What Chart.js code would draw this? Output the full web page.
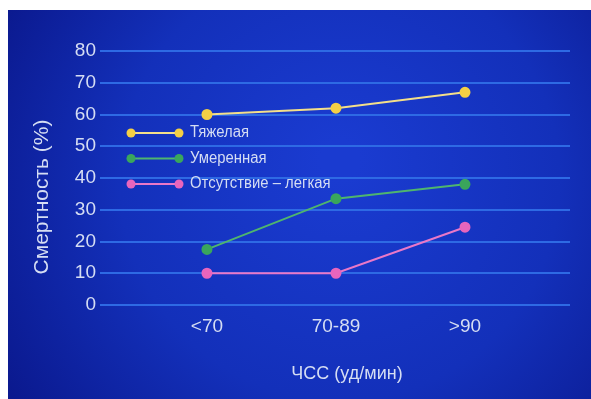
<!DOCTYPE html>
<html>
<head>
<meta charset="utf-8">
<script src="https://cdn.jsdelivr.net/npm/chart.js@4/dist/chart.umd.min.js"></script>
<style>
  html, body { margin: 0; padding: 0; background: #ffffff; }
  #wrap { width: 591px; height: 399px; }
</style>
</head>
<body>
<div id="wrap"><canvas id="c" width="591" height="399"></canvas></div>
<script>
// Heart-rate groups and mortality (%) by severity
const categories = ['<70', '70-89', '>90'];
const severe = [60, 62, 67];
const moderate = [17.5, 33.5, 38];
const mildNone = [10, 10, 24.5];
const seriesNames = ['Тяжелая', 'Умеренная', 'Отсутствие – легкая'];
const yTicks = [0, 10, 20, 30, 40, 50, 60, 70, 80];
const xTitle = 'ЧСС (уд/мин)';
const yTitle = 'Смертность (%)';

const FONT = "'Liberation Sans', Arial, sans-serif";
const TEXT = '#d5ddf3';

const colors = [
  { line: '#f3df8a', point: '#f4cf45' },
  { line: '#4fb56e', point: '#3aa65c' },
  { line: '#ea78c8', point: '#e865bd' }
];

function toPoints(values) {
  return values.map((v, i) => ({ x: i, y: v }));
}

const datasets = [severe, moderate, mildNone].map((vals, i) => ({
  label: seriesNames[i],
  data: toPoints(vals),
  borderColor: colors[i].line,
  backgroundColor: colors[i].point,
  pointBackgroundColor: colors[i].point,
  pointBorderColor: colors[i].point,
  pointRadius: 4.5,
  pointHoverRadius: 4.5,
  borderWidth: 2,
  tension: 0
}));

// Blue panel behind the plot
const panel = {
  id: 'panel',
  beforeDraw(chart) {
    const ctx = chart.ctx;
    ctx.save();
    ctx.fillStyle = '#ffffff';
    ctx.fillRect(0, 0, chart.width, chart.height);
    const g = ctx.createRadialGradient(340, 160, 20, 340, 200, 420);
    g.addColorStop(0, '#1a3bd0');
    g.addColorStop(0.5, '#1330ba');
    g.addColorStop(1, '#091485');
    ctx.fillStyle = g;
    ctx.fillRect(8, 10, chart.width - 8, chart.height - 10);
    ctx.restore();
  }
};

// Axis titles and the in-plot legend
const extras = {
  id: 'extras',
  afterDatasetsDraw(chart) {
    const ctx = chart.ctx;
    ctx.save();
    ctx.fillStyle = TEXT;
    ctx.font = '21px ' + FONT;
    ctx.textAlign = 'center';
    ctx.textBaseline = 'middle';
    ctx.translate(42, 197);
    ctx.rotate(-Math.PI / 2);
    ctx.fillText(yTitle, 0, 0);
    ctx.restore();

    ctx.save();
    ctx.fillStyle = TEXT;
    ctx.font = '18px ' + FONT;
    ctx.textAlign = 'center';
    ctx.textBaseline = 'middle';
    ctx.fillText(xTitle, 347, 374);
    ctx.restore();

    chart.data.datasets.forEach((ds, i) => {
      const y = 133 + i * 25.5;
      ctx.save();
      ctx.strokeStyle = ds.borderColor;
      ctx.lineWidth = 2;
      ctx.beginPath();
      ctx.moveTo(131, y);
      ctx.lineTo(179, y);
      ctx.stroke();
      ctx.fillStyle = ds.pointBackgroundColor;
      [131, 179].forEach(x => {
        ctx.beginPath();
        ctx.arc(x, y, 4.5, 0, Math.PI * 2);
        ctx.fill();
      });
      // slightly condensed legend lettering
      ctx.translate(190, y);
      ctx.scale(0.93, 1);
      ctx.fillStyle = TEXT;
      ctx.font = '16px ' + FONT;
      ctx.textAlign = 'left';
      ctx.textBaseline = 'middle';
      ctx.fillText(ds.label, 0, 0);
      ctx.restore();
    });
  }
};

new Chart(document.getElementById('c'), {
  type: 'line',
  data: { datasets },
  options: {
    responsive: false,
    animation: false,
    events: [],
    layout: { padding: { left: 8, top: 51, right: 21, bottom: 0 } },
    plugins: { legend: { display: false }, tooltip: { enabled: false } },
    scales: {
      x: {
        type: 'linear',
        min: -0.829,
        max: 2.814,
        afterBuildTicks(scale) {
          scale.ticks = categories.map((_, i) => ({ value: i }));
        },
        afterFit(scale) { scale.height = 94; },
        ticks: {
          color: TEXT,
          font: { family: FONT, size: 19 },
          padding: 10,
          callback: (v) => categories[v]
        },
        grid: { display: false, drawTicks: false },
        border: { display: false }
      },
      y: {
        min: 0,
        max: 80,
        afterBuildTicks(scale) {
          scale.ticks = yTicks.map(v => ({ value: v }));
        },
        afterFit(scale) { scale.width = 92; },
        ticks: {
          color: TEXT,
          font: { family: FONT, size: 19 },
          padding: 4
        },
        grid: { color: '#2e6ae4', lineWidth: 2, drawTicks: false },
        border: { display: false }
      }
    }
  },
  plugins: [panel, extras]
});
</script>
</body>
</html>
